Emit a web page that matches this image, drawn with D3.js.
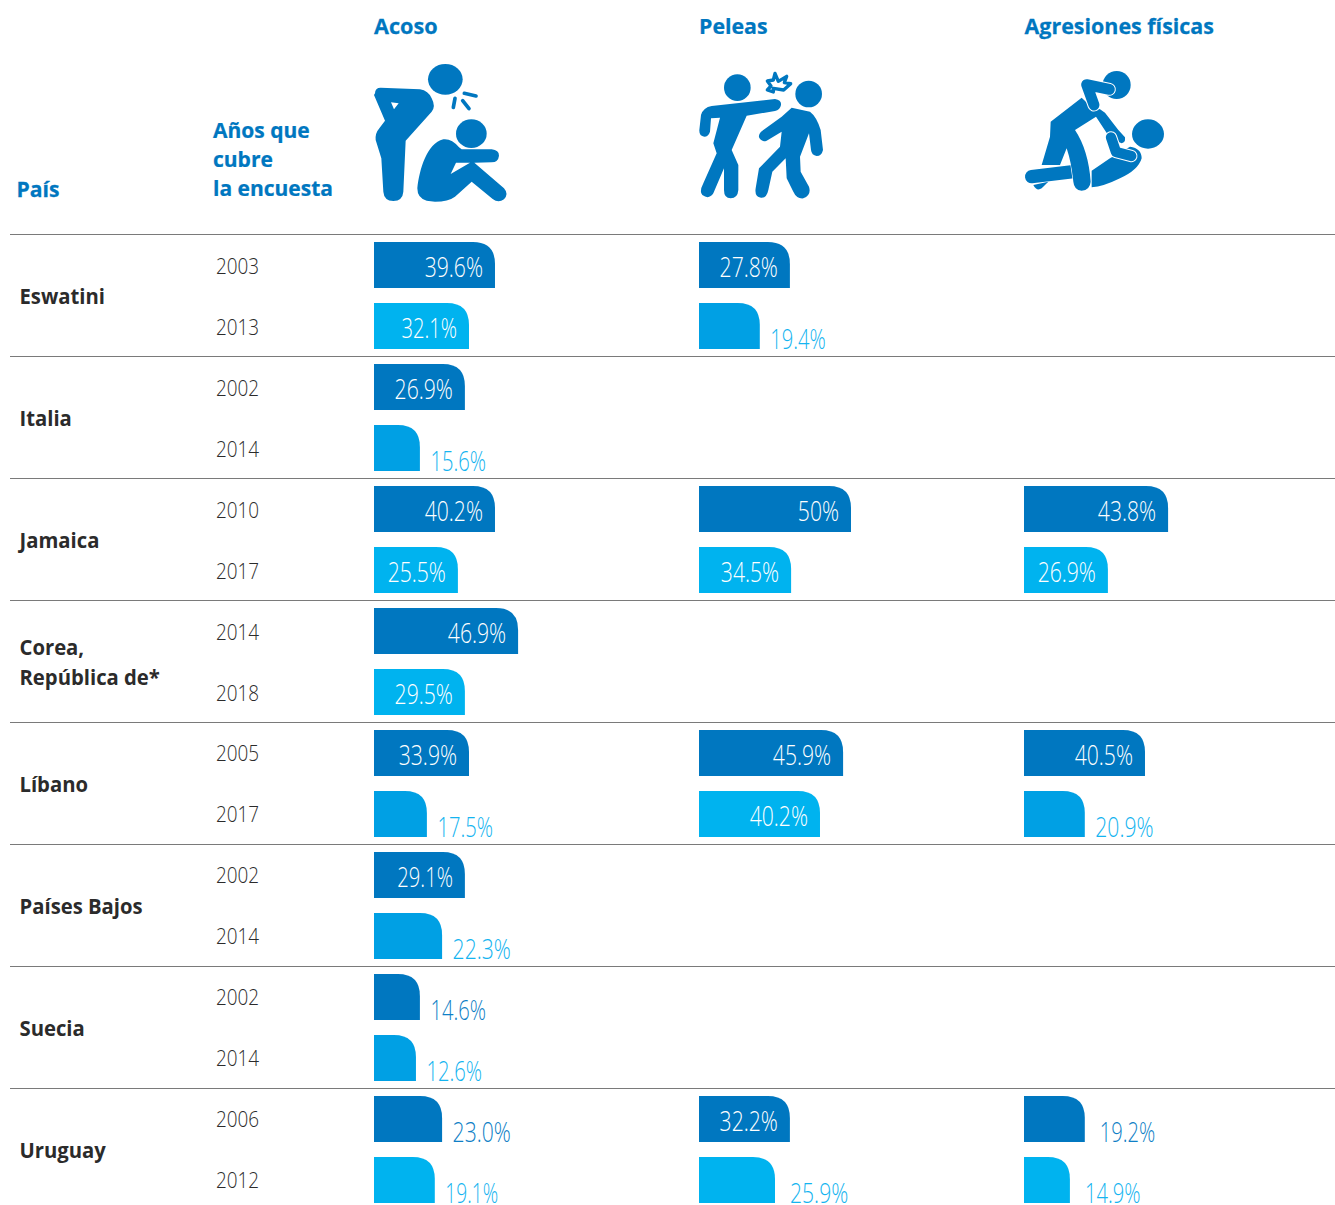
<!DOCTYPE html>
<html lang="es">
<head>
<meta charset="utf-8">
<style>
html,body{margin:0;padding:0;background:#fff;overflow:hidden}
text{font-family:"Open Sans",sans-serif}
</style>
<script src="https://cdn.jsdelivr.net/npm/d3@7/dist/d3.min.js"></script>
</head>
<body>
<svg id="chart" width="1335" height="1205" viewBox="0 0 1335 1205"></svg>
<script>
const countries = [["Eswatini"],["Italia"],["Jamaica"],["Corea,","República de*"],["Líbano"],["Países Bajos"],["Suecia"],["Uruguay"]];
const years = ["2003","2013","2002","2014","2010","2017","2014","2018","2005","2017","2002","2014","2002","2014","2006","2012"];
const metricNames = ["Acoso","Peleas","Agresiones físicas"];
const acosoLabels = ["39.6%","32.1%","26.9%","15.6%","40.2%","25.5%","46.9%","29.5%","33.9%","17.5%","29.1%","22.3%","14.6%","12.6%","23.0%","19.1%"];
const acosoDrawn  = [39.8,31.25,29.9,15.1,39.8,27.6,47.4,29.9,31.25,17.4,29.9,22.4,15.1,13.8,22.4,20];
const peleasLabels = ["27.8%","19.4%",null,null,"50%","34.5%",null,null,"45.9%","40.2%",null,null,null,null,"32.2%","25.9%"];
const peleasDrawn  = [29.9,20,null,null,50,30.3,null,null,47.4,39.8,null,null,null,null,29.9,25];
const agresionLabels = [null,null,null,null,"43.8%","26.9%",null,null,"40.5%","20.9%",null,null,null,null,"19.2%","14.9%"];
const agresionDrawn  = [null,null,null,null,47.4,27.6,null,null,39.8,20,null,null,null,null,20,15.1];
const midToneRows = [[3,9,11,13],[1],[9]];
const wideGapLabels = ["25.9%","19.2%","14.9%"];

const BLUE="#0077c0", LIGHT="#00b3ef", MID="#00a0e4";
const svg=d3.select("#chart");
const slots=d3.range(16);
const barTop=d3.scaleLinear().domain([0,15]).range([242,1157]);
const yearBase=d3.scaleLinear().domain([0,15]).range([274,1188]);
const barLen=d3.scaleLinear().domain([0,50]).range([0,152]);
const colX=d3.scalePoint().domain(metricNames).range([374,1024]);
const BAR_H=46, R=22, NARROW=27;

svg.append("g").selectAll("line").data(d3.range(8))
 .join("line").attr("x1",10).attr("x2",1335)
 .attr("y1",i=>234.5+i*122).attr("y2",i=>234.5+i*122)
 .attr("stroke","#7a7a7a").attr("stroke-width",1);

function squeezed(sel,x,y,sx){return sel.attr("transform",`translate(${x},${y}) scale(${sx},1)`);}

const head=svg.append("g").attr("fill",BLUE).attr("font-weight",700).attr("font-size",22)
 .attr("stroke",BLUE).attr("stroke-width",0.25);
metricNames.forEach((n,i)=>squeezed(head.append("text").text(n),colX(n)+(i==2?0.5:0),34,[0.985,0.97,0.975][i]));
squeezed(head.append("text").text("País"),16.5,197,0.96);
[["Años que",138],["cubre",167],["la encuesta",196]].forEach(d=>squeezed(head.append("text").text(d[0]),213,d[1],0.955));

const cg=svg.append("g").attr("fill","#2b2b2b").attr("font-weight",700).attr("font-size",21);
countries.forEach((lines,i)=>{
  const mid=barTop(i*2)+53.5;
  lines.forEach((l,j)=>{
    const y=mid+8.5+(j-(lines.length-1)/2)*30;
    squeezed(cg.append("text").text(l),19.5,y,0.965);
  });
});
svg.append("g").attr("fill","#2b2b2b").attr("font-weight",300).attr("font-size",22)
 .selectAll("text").data(years).join("text").text(d=>d)
 .attr("transform",(d,i)=>`translate(216,${yearBase(i)}) scale(0.86,1)`);

function barPath(w){
  const p=d3.path();
  p.moveTo(0,BAR_H);p.lineTo(0,0);p.lineTo(w-R,0);
  p.quadraticCurveTo(w,0,w,R);p.lineTo(w,BAR_H);p.closePath();
  return p.toString();
}
const labelSqueeze=s=>0.755-0.035*(s.split("1").length-1);
[[acosoLabels,acosoDrawn],[peleasLabels,peleasDrawn],[agresionLabels,agresionDrawn]].forEach((m,mi)=>{
  const rows=slots.filter(i=>m[0][i]!==null).map(i=>({i,label:m[0][i],v:m[1][i]}));
  const x0=colX(metricNames[mi]);
  const fill=d=>d.i%2===0?BLUE:(midToneRows[mi].includes(d.i)?MID:LIGHT);
  const g=svg.append("g");
  g.selectAll("path").data(rows).join("path")
   .attr("d",d=>barPath(barLen(d.v)))
   .attr("transform",d=>`translate(${x0},${barTop(d.i)})`)
   .attr("fill",fill);
  g.selectAll("text").data(rows).join("text").text(d=>d.label)
   .attr("font-size",28).attr("font-weight",300)
   .attr("text-anchor",d=>d.v<NARROW?"start":"end")
   .attr("fill",d=>d.v<NARROW?(d.i%2===0?"#0f7fc6":"#14b4f0"):"#fff")
   .attr("transform",d=>{
     const w=barLen(d.v), inside=d.v>=NARROW;
     const gap=inside?-12:(wideGapLabels.includes(d.label)?15:10.5);
     return `translate(${x0+w+gap},${barTop(d.i)+(inside?35:46)}) scale(${labelSqueeze(d.label)},1)`;
   });
});

function icon(x,y){return svg.append("g").attr("transform",`translate(${x},${y}) scale(${1/3})`).attr("fill",BLUE);}
const a=icon(360,50);
a.append("ellipse").attr("cx",256).attr("cy",88).attr("rx",52).attr("ry",46);
a.append("path").attr("fill-rule","evenodd").attr("d","M45,130 Q45,113 62,113 L180,118 Q205,122 215,145 Q228,170 215,185 L137,272 L130,425 Q128,452 100,453 Q72,452 70,425 L64,325 L47,270 Q45,250 58,235 L75,212 L42,135 Z M93,157 L116,160 L102,178 Z");
a.append("g").attr("stroke",BLUE).attr("stroke-width",11).attr("stroke-linecap","round").selectAll("line")
 .data([[313,130,348,138],[285,145,280,172],[308,152,327,176]]).join("line")
 .attr("x1",d=>d[0]).attr("y1",d=>d[1]).attr("x2",d=>d[2]).attr("y2",d=>d[3]);
a.append("ellipse").attr("cx",334).attr("cy",251).attr("rx",46).attr("ry",43);
a.append("path").attr("fill-rule","evenodd").attr("d","M172,415 C178,360 200,280 250,268 Q275,265 297,292 L305,298 L395,298 Q417,300 417,317 Q415,336 395,337 L343,338 L432,415 Q447,432 432,448 Q415,460 398,447 L335,395 L285,440 Q265,455 225,455 L200,452 Q172,445 172,415 Z M288,338 L330,338 L272,372 Z");

const b=icon(685,50);
b.append("circle").attr("cx",157).attr("cy",113).attr("r",40);
b.append("circle").attr("cx",371).attr("cy",132).attr("r",40);
b.append("path").attr("fill","#fff").attr("stroke",BLUE).attr("stroke-width",10).attr("stroke-linejoin","round")
 .attr("d","M270,70 L280,94 L305,79 L298,98 L317,101 L296,120 L265,115 L265,126 L247,120 L258,108 L247,93 L265,90 Z");
b.append("path").attr("d","M80,168 L270,147 Q290,150 288,165 Q285,180 270,183 L185,197 L140,300 L160,345 L160,420 Q158,445 137,445 Q117,445 117,420 L117,355 L85,430 Q72,450 52,435 Q42,425 55,400 L95,310 L85,280 L105,203 L78,205 L75,245 Q70,260 58,260 Q42,258 43,240 L48,195 Q55,172 80,168 Z");
b.append("path").attr("d","M320,173 L375,185 Q395,200 407,240 L414,300 Q410,318 395,318 Q380,316 378,300 L372,250 L345,320 L347,365 L372,410 Q380,435 355,445 Q335,447 325,425 L305,385 L302,325 L262,365 L250,420 Q245,445 228,443 Q208,440 212,415 L222,355 L285,290 L290,245 L245,272 Q230,278 222,262 Q220,250 235,240 L290,200 Z");

const c=icon(1010,50);
c.append("ellipse").attr("cx",320).attr("cy",105).attr("rx",42).attr("ry",42);
c.append("ellipse").attr("cx",414).attr("cy",252).attr("rx",48).attr("ry",44);
c.append("path").attr("d","M245,362 L300,325 L360,290 Q395,295 395,325 Q385,360 330,385 Q280,410 245,412 Z");
c.append("path").attr("d","M70,405 L115,395 L95,415 Q80,425 70,405 Z");
c.append("path").attr("d","M65,380 L190,365").attr("fill","none").attr("stroke",BLUE).attr("stroke-width",40).attr("stroke-linecap","round");
c.append("path").attr("stroke","#fff").attr("stroke-width",3).attr("paint-order","stroke")
 .attr("d","M215,143 Q240,170 270,178 L285,188 L325,240 L345,262 Q347,278 335,280 L305,268 L296,258 L258,200 L195,240 Q235,300 242,395 Q240,420 215,422 Q192,420 190,395 Q185,340 170,295 L150,345 L95,345 L120,260 L122,215 Z");
[["M298,118 L230,104 L252,165",33],["M303,262 L318,306 L364,318",31]].forEach(d=>{
  c.append("path").attr("d",d[0]).attr("fill","none").attr("stroke","#fff").attr("stroke-width",d[1]+6).attr("stroke-linecap","round").attr("stroke-linejoin","round");
  c.append("path").attr("d",d[0]).attr("fill","none").attr("stroke",BLUE).attr("stroke-width",d[1]).attr("stroke-linecap","round").attr("stroke-linejoin","round");
});
</script>
</body>
</html>
